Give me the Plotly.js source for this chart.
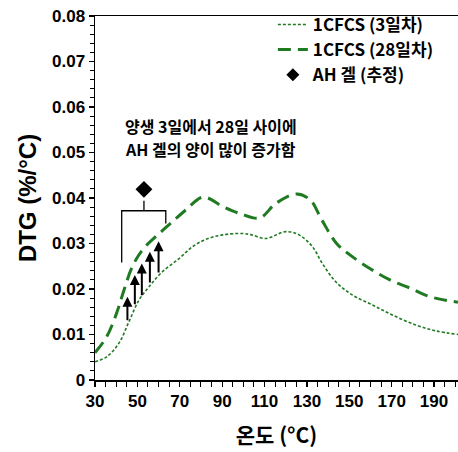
<!DOCTYPE html>
<html>
<head>
<meta charset="utf-8">
<script src="https://cdn.plot.ly/plotly-3.0.1.min.js"></script>
<style>html,body{margin:0;padding:0;background:#fff;}#chart{width:458px;height:452px;}</style>
</head>
<body>
<div id="chart"></div>
<script>
// 1CFCS (3일차)
const temp3 = [30, 35.5, 41.3, 46.0, 50.8, 55.5, 61.8, 69.7, 76.0, 82.3, 90.2, 99.6, 104, 110.6, 120.0, 126.3, 132.6, 137.3, 143.6, 151.4, 160.9, 170.3, 181.3, 190.8, 201.3];
const dtg3 = [0.0040, 0.0051, 0.0081, 0.0128, 0.0176, 0.0205, 0.0238, 0.0267, 0.0293, 0.0309, 0.0319, 0.0322, 0.0319, 0.0311, 0.0326, 0.0319, 0.0293, 0.0256, 0.0216, 0.0187, 0.0165, 0.0143, 0.0121, 0.0108, 0.0100];
// 1CFCS (28일차)
const temp28 = [30, 35.5, 40.2, 43.7, 47.6, 52.4, 60.3, 66.6, 72.9, 81.0, 90.4, 98.3, 107.7, 115.3, 125.2, 131.5, 137.0, 144.0, 150.3, 159.7, 169.2, 178.7, 188.1, 201.3];
const dtg28 = [0.0060, 0.0095, 0.0147, 0.0198, 0.0249, 0.0286, 0.0322, 0.0348, 0.0374, 0.0402, 0.0381, 0.0366, 0.0356, 0.0388, 0.0409, 0.0396, 0.0352, 0.0300, 0.0275, 0.0245, 0.0220, 0.0202, 0.0183, 0.0171];
// AH 겔 (추정)
const ahTemp = [53.1];
const ahDtg = [0.0419];
// bracket
const bracketT = [42.6, 42.6, 63.4, 63.4, null, 53.1, 53.1];
const bracketV = [0.0258, 0.0372, 0.0372, 0.0344, null, 0.0372, 0.0394];
// arrows
const arrowT = [45.3, 48.8, 52.1, 55.9, 60.0];
const arrowFrom = [0.0128, 0.0163, 0.0183, 0.0211, 0.0233];
const arrowTo = [0.0183, 0.0231, 0.0256, 0.0282, 0.0305];
const noteLines = ['양생 3일에서 28일 사이에', 'AH 겔의 양이 많이 증가함'];
const xTicks = [30, 50, 70, 90, 110, 130, 150, 170, 190];
const yTicks = [0, 0.01, 0.02, 0.03, 0.04, 0.05, 0.06, 0.07, 0.08];
const yTickText = ['0', '0.01', '0.02', '0.03', '0.04', '0.05', '0.06', '0.07', '0.08'];

const green = '#1f7a22';
const KFONT = '"Noto Sans CJK KR", "Noto Sans", sans-serif';
const AFONT = '"Liberation Sans", Arial, sans-serif';

const traces = [
  {x: temp3, y: dtg3, name: '<b>1CFCS (3일차)</b>', mode: 'lines', line: {color: green, width: 1.6, dash: '3px,2px', shape: 'spline', smoothing: 1}},
  {x: temp28, y: dtg28, name: '<b>1CFCS (28일차)</b>', mode: 'lines', line: {color: green, width: 3, dash: '13px,7px', shape: 'spline', smoothing: 1}},
  {x: [null], y: [null], name: '<b>AH 겔 (추정)</b>', mode: 'markers', marker: {symbol: 'diamond', color: '#000', size: 10}},
  {x: ahTemp, y: ahDtg, showlegend: false, mode: 'markers', marker: {symbol: 'diamond', color: '#000', size: 13}},
  {x: bracketT, y: bracketV, mode: 'lines', showlegend: false, line: {color: '#000', width: 1.3}, hoverinfo: 'skip'}
];

const annotations = arrowT.map((t, i) => ({
  x: t, y: arrowTo[i], ax: t, ay: arrowFrom[i], xref: 'x', yref: 'y', axref: 'x', ayref: 'y',
  showarrow: true, arrowhead: 2, arrowsize: 1, arrowwidth: 2, arrowcolor: '#000', text: ''
}));
const notePos = [0.699, 0.635];
noteLines.forEach((line, i) => annotations.push({
  xref: 'paper', yref: 'paper', x: 0.08, y: notePos[i], xanchor: 'left', yanchor: 'middle', align: 'left',
  showarrow: false, borderpad: 0, text: '<b>' + line + '</b>',
  font: {family: KFONT, size: 16, color: '#000'}
}));

const layout = {
  width: 458, height: 452,
  margin: {l: 95, r: 0, t: 16, b: 72},
  paper_bgcolor: '#fff', plot_bgcolor: '#fff',
  showlegend: true,
  legend: {x: 0.49, y: 1.025, xanchor: 'left', yanchor: 'top', bgcolor: 'rgba(0,0,0,0)',
    font: {family: KFONT, size: 17, color: '#000'}, tracegroupgap: 0, itemwidth: 30},
  xaxis: {
    range: [30, 201.3], tickvals: xTicks, ticks: 'outside', ticklen: 5, tickwidth: 1.3, tickcolor: '#000',
    showline: true, linecolor: '#000', linewidth: 1.5, mirror: true, showgrid: false, zeroline: false,
    minor: {dtick: 5, tick0: 30, ticks: 'outside', ticklen: 5, tickwidth: 1, tickcolor: '#000', showgrid: false},
    tickfont: {family: AFONT, size: 17, color: '#000', weight: 'bold'},
    title: {text: '<b>온도 (°C)</b>', font: {family: KFONT, size: 21, color: '#000'}, standoff: 18}
  },
  yaxis: {
    range: [0, 0.08], tickvals: yTicks, ticktext: yTickText, ticks: 'outside', ticklen: 5, tickwidth: 1.3, tickcolor: '#000',
    showline: true, linecolor: '#000', linewidth: 1.5, showgrid: false, zeroline: false,
    minor: {dtick: 0.002, ticks: 'outside', ticklen: 4, tickwidth: 1, tickcolor: '#000', showgrid: false},
    tickfont: {family: AFONT, size: 17, color: '#000', weight: 'bold'},
    title: {text: 'DTG (%/°C)', font: {family: AFONT, size: 24, color: '#000', weight: 'bold'}, standoff: 8}
  },
  annotations: annotations
};

Plotly.newPlot('chart', traces, layout, {displayModeBar: false, staticPlot: true});
</script>
</body>
</html>
